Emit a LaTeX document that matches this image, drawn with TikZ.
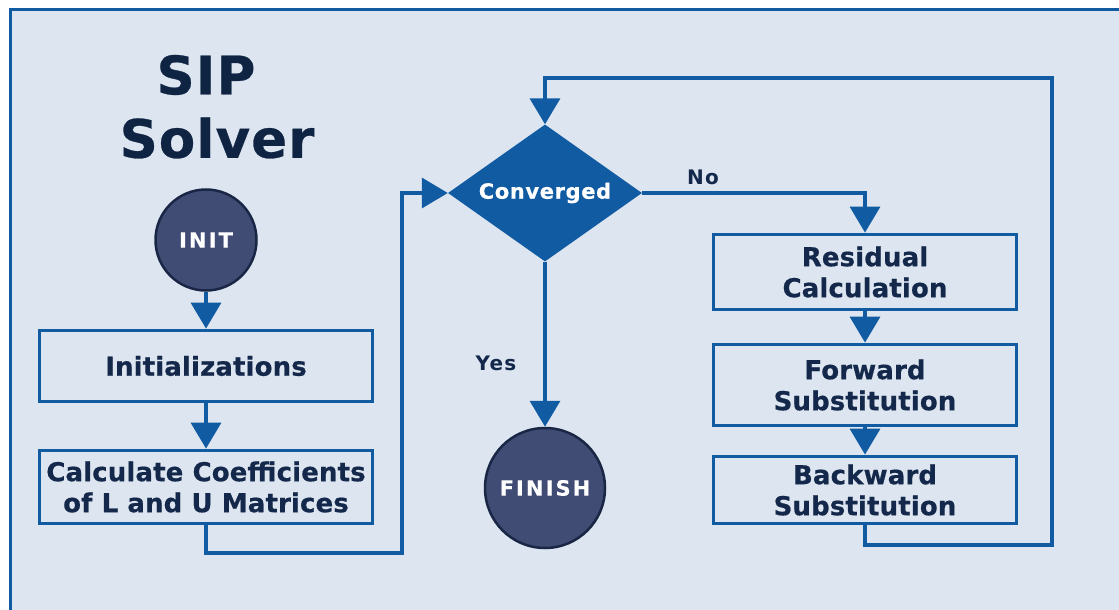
\documentclass[tikz,border=0pt]{standalone}
\usepackage{fontspec}
\setmainfont{DejaVu Sans}
\usetikzlibrary{arrows.meta,shapes.geometric}
\definecolor{panel}{HTML}{DDE5F0}
\definecolor{flowblue}{HTML}{115BA3}
\definecolor{ink}{HTML}{13284A}
\definecolor{titleink}{HTML}{0E2442}
\definecolor{termfill}{HTML}{414C75}
\definecolor{termedge}{HTML}{1A2645}

\begin{document}
\begin{tikzpicture}[x=1pt,y=-1pt,
  flow/.style={draw=flowblue, line width=3.6pt, -{Triangle[width=30pt,length=26pt]}},
  stepbox/.style={rectangle, draw=flowblue, line width=3.8pt, fill=panel, text=ink,
    font=\bfseries\fontsize{26}{31}\selectfont\addfontfeature{LetterSpace=0.5,FakeBold=0.5},
    align=center, inner sep=0pt},
  term/.style={circle, draw=termedge, line width=2.5pt, fill=termfill, text=white,
    font=\bfseries\fontsize{21}{24}\selectfont\addfontfeature{LetterSpace=10,FakeBold=0.5}, inner sep=0pt},
  decision/.style={diamond, aspect=1.42, fill=flowblue, text=white,
    font=\bfseries\fontsize{21}{24}\selectfont\addfontfeature{LetterSpace=3,FakeBold=0.5}, inner sep=0pt,
    minimum width=194pt, minimum height=137pt},
  branch/.style={text=ink, font=\bfseries\fontsize{20}{24}\selectfont\addfontfeature{LetterSpace=6}},
  heading/.style={text=titleink, font=\bfseries\fontsize{53}{60}\selectfont\addfontfeature{LetterSpace=2,FakeBold=0.5}}
]
\useasboundingbox (0,0) rectangle (1119,610);
\clip (0,0) rectangle (1119,610);
% panel with its frame
\fill[white] (0,0) rectangle (1119,610);
\draw[flowblue, line width=3pt, fill=panel] (10,10) rectangle (1130,620);

% title
\node[heading] (tsip) at (206,75) {SIP};
\node[heading] (tsolver) at (217,138) {Solver};

% left column
\node[term, minimum size=101pt] (init) at (206,240) {INIT};
\node[stepbox, minimum width=333pt, minimum height=71pt] (ini) at (206,366) {Initializations};
\node[stepbox, minimum width=333pt, minimum height=73pt] (coef) at (206,487)
  {Calculate Coefficients\\of L and U Matrices};

% decision and end
\node[decision] (conv) at (545,193) {Converged};
\node[term, minimum size=120pt] (fin) at (545,488) {FINISH};

% iteration column
\node[stepbox, minimum width=303pt, minimum height=75pt] (res) at (865,272)
  {Residual\\Calculation};
\node[stepbox, minimum width=303pt, minimum height=81pt] (fwd) at (865,385)
  {Forward\\Substitution};
\node[stepbox, minimum width=303pt, minimum height=67pt] (bwd) at (865,490)
  {Backward\\Substitution};

% connectors
\draw[flow] (init) -- (ini);
\draw[flow] (ini) -- (coef);
\draw[flow] (coef.south) |- (402,553) |- (conv.west);
\draw[flow] (conv.east) -| (res.north);
\draw[flow] (conv.south) -- (fin.north);
\draw[flow] (res) -- (fwd);
\draw[flow] (fwd) -- (bwd);
\draw[flow] (bwd.south) |- (1052,545) |- (545,78) -- (conv.north);

% branch labels
\node[branch] (lno) at (703,177) {No};
\node[branch] (lyes) at (496,363) {Yes};
\end{tikzpicture}
\end{document}
